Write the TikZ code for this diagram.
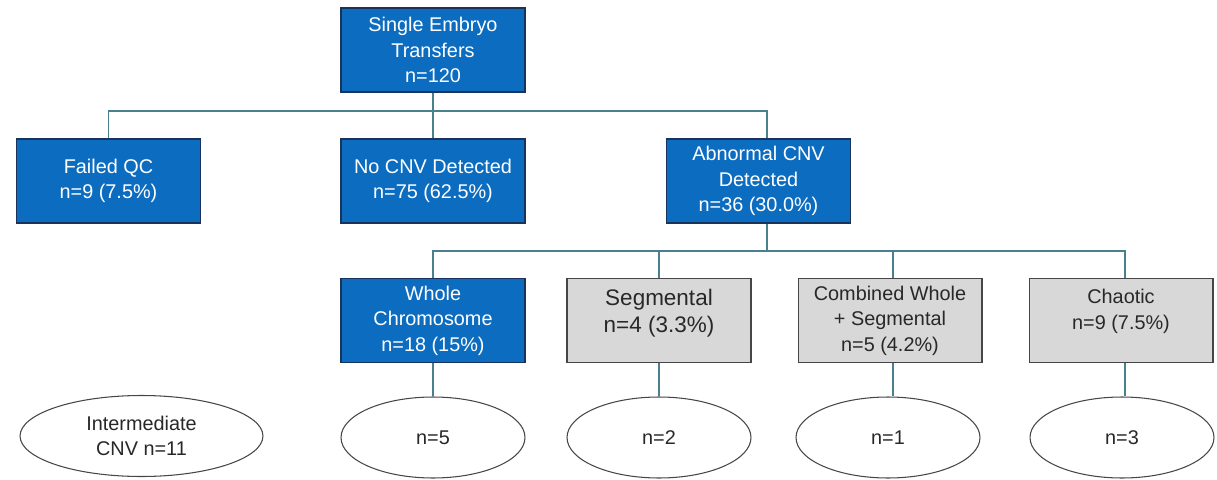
\documentclass[tikz,border=0pt]{standalone}
\usepackage{fontspec}
\setmainfont{Liberation Sans}
\usepackage{tikz}
\usetikzlibrary{shapes.geometric}
\usepackage{xcolor}
\definecolor{boxblue}{RGB}{12,108,192}
\definecolor{boxnavy}{RGB}{24,52,92}
\definecolor{boxgrey}{RGB}{216,216,216}
\definecolor{edgegrey}{RGB}{70,70,70}
\definecolor{textgrey}{RGB}{40,40,40}
\definecolor{linkteal}{RGB}{72,128,144}

\begin{document}
\begin{tikzpicture}[x=0.02cm, y=-0.02cm,
    bluebox/.style={rectangle, draw=boxnavy, line width=0.6pt, fill=boxblue, text=white,
      minimum width=3.68cm, minimum height=1.68cm, inner sep=2pt, align=center,
      font=\fontsize{11.3}{14.5}\selectfont},
    greybox/.style={bluebox, draw=edgegrey, fill=boxgrey, text=textgrey},
    oval/.style={ellipse, draw=edgegrey, line width=0.6pt, fill=white, text=textgrey,
      minimum width=3.68cm, minimum height=1.62cm, inner sep=0pt, align=center,
      font=\fontsize{11.3}{14.5}\selectfont},
    link/.style={draw=linkteal, line width=0.9pt}]
    \useasboundingbox (0,0) rectangle (1217,480);

    % Top level
    \node[bluebox] (set) at (433,50) {Single Embryo\\Transfers\\n=120};

    % First split
    \node[bluebox] (failqc) at (108.5,181) {Failed QC\\n=9 (7.5\%)};
    \node[bluebox] (nocnv) at (433,181) {No CNV Detected\\n=75 (62.5\%)};
    \node[bluebox] (abncnv) at (758.5,181) {Abnormal CNV\\Detected\\n=36 (30.0\%)};

    % Abnormal CNV types
    \node[bluebox] (whole) at (433,320.5) {Whole\\Chromosome\\n=18 (15\%)};
    \node[greybox, font=\fontsize{12.8}{15}\selectfont] (segm) at (659,320.5) {Segmental\\n=4 (3.3\%)\\[-4pt]\mbox{}};
    \node[greybox] (combo) at (890,320.5) {Combined Whole\\+ Segmental\\n=5 (4.2\%)};
    \node[greybox] (chaos) at (1121,320.5) {Chaotic\\n=9 (7.5\%)\\[-2pt]\mbox{}};

    % Counts
    \node[oval, minimum width=4.86cm] (inter) at (141.5,436) {Intermediate\\CNV n=11};
    \node[oval] (cwhole) at (433,437.5) {n=5};
    \node[oval] (csegm) at (659,437.5) {n=2};
    \node[oval] (ccombo) at (888,437.5) {n=1};
    \node[oval] (cchaos) at (1122,437.5) {n=3};

    % Connectors
    \coordinate (busa) at (433,111);
    \coordinate (busar) at (767,111);
    \coordinate (busb) at (767,251);
    \coordinate (busbr) at (1125,251);
    \coordinate (combx) at (893,251);
    \draw[link] (set.south) -- (busa) -- (nocnv.north);
    \draw[link] (failqc.north) |- (busar) -- (busar |- abncnv.north);
    \draw[link] (busb |- abncnv.south) -- (busb);
    \draw[link] (whole.north) |- (busbr) -- (busbr |- chaos.north);
    \draw[link] (segm.north) -- (segm.north |- busb);
    \draw[link] (combx) -- (combx |- combo.north);
    \draw[link] (whole) -- (cwhole);
    \draw[link] (segm) -- (csegm);
    \draw[link] (combx |- combo.south) -- (combx |- ccombo.north);
    \draw[link] (busbr |- chaos.south) -- (busbr |- cchaos.north);
\end{tikzpicture}
\end{document}
